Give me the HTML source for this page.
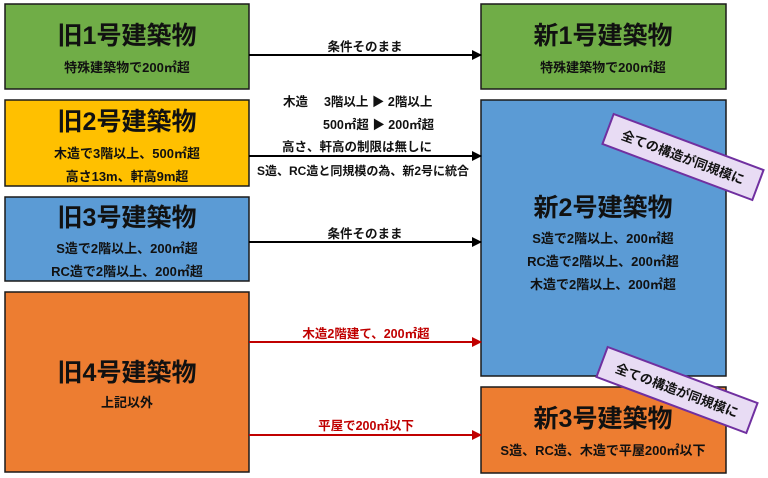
<!DOCTYPE html>
<html><head><meta charset="utf-8"><style>
html,body{margin:0;padding:0;background:#fff;}
svg{display:block;font-family:"Liberation Sans","Noto Sans CJK JP",sans-serif;}
</style></head><body>
<svg width="768" height="478" viewBox="0 0 768 478" xmlns="http://www.w3.org/2000/svg">
<defs>
<marker id="ab" markerWidth="10" markerHeight="10" refX="9" refY="5" orient="auto" markerUnits="userSpaceOnUse"><path d="M0,0 L10,5 L0,10 z" fill="#000"/></marker>
<marker id="ar" markerWidth="10" markerHeight="10" refX="9" refY="5" orient="auto" markerUnits="userSpaceOnUse"><path d="M0,0 L10,5 L0,10 z" fill="#c00000"/></marker>
</defs>
<g stroke="#1a1a1a" stroke-width="1.5">
<rect x="5" y="4" width="244" height="85" fill="#70ad47"/>
<rect x="5" y="100" width="244" height="86" fill="#ffc000"/>
<rect x="5" y="197" width="244" height="84" fill="#5b9bd5"/>
<rect x="5" y="292" width="244" height="180" fill="#ed7d31"/>
<rect x="481" y="4" width="245" height="85" fill="#70ad47"/>
<rect x="481" y="100" width="245" height="276" fill="#5b9bd5"/>
<rect x="481" y="387" width="245" height="86" fill="#ed7d31"/>
</g>
<g fill="#111" text-anchor="middle">
<g font-size="25" font-weight="bold">
<text x="127" y="44">旧1号建築物</text>
<text x="127" y="130">旧2号建築物</text>
<text x="127" y="226">旧3号建築物</text>
<text x="127" y="381">旧4号建築物</text>
<text x="603" y="44">新1号建築物</text>
<text x="603" y="216">新2号建築物</text>
<text x="603" y="427">新3号建築物</text>
</g>
<g font-size="13" font-weight="bold">
<text x="127" y="72">特殊建築物で200㎡超</text>
<text x="127" y="158">木造で3階以上、500㎡超</text>
<text x="127" y="181">高さ13m、軒高9m超</text>
<text x="127" y="253">S造で2階以上、200㎡超</text>
<text x="127" y="276">RC造で2階以上、200㎡超</text>
<text x="127" y="407">上記以外</text>
<text x="603" y="72">特殊建築物で200㎡超</text>
<text x="603" y="243">S造で2階以上、200㎡超</text>
<text x="603" y="266">RC造で2階以上、200㎡超</text>
<text x="603" y="289">木造で2階以上、200㎡超</text>
<text x="603" y="455">S造、RC造、木造で平屋200㎡以下</text>
</g>
</g>
<g stroke-width="2">
<line x1="249" y1="55" x2="481" y2="55" stroke="#000" marker-end="url(#ab)"/>
<line x1="249" y1="156" x2="481" y2="156" stroke="#000" marker-end="url(#ab)"/>
<line x1="249" y1="242" x2="481" y2="242" stroke="#000" marker-end="url(#ab)"/>
<line x1="249" y1="342" x2="481" y2="342" stroke="#c00000" marker-end="url(#ar)"/>
<line x1="249" y1="435" x2="481" y2="435" stroke="#c00000" marker-end="url(#ar)"/>
</g>
<g fill="#111" font-size="12.5" font-weight="bold">
<text x="365" y="51" text-anchor="middle">条件そのまま</text>
<text x="365" y="238" text-anchor="middle">条件そのまま</text>
<text x="283" y="106">木造　 3階以上 ▶ 2階以上</text>
<text x="323" y="129">500㎡超 ▶ 200㎡超</text>
<text x="282" y="151">高さ、軒高の制限は無しに</text>
<text x="257" y="175" font-size="12">S造、RC造と同規模の為、新2号に統合</text>
</g>
<g fill="#c00000" font-size="12.5" font-weight="bold" text-anchor="middle">
<text x="366" y="338">木造2階建て、200㎡超</text>
<text x="366" y="430">平屋で200㎡以下</text>
</g>
<g transform="translate(683,157) rotate(20.5)">
<rect x="-80" y="-16" width="160" height="32" fill="#e8dcf4" stroke="#7030a0" stroke-width="2"/>
<text x="0" y="5" font-size="13" font-weight="bold" text-anchor="middle" fill="#111">全ての構造が同規模に</text>
</g>
<g transform="translate(677,390) rotate(20.5)">
<rect x="-80" y="-16" width="160" height="32" fill="#e8dcf4" stroke="#7030a0" stroke-width="2"/>
<text x="0" y="5" font-size="13" font-weight="bold" text-anchor="middle" fill="#111">全ての構造が同規模に</text>
</g>
</svg>
</body></html>
